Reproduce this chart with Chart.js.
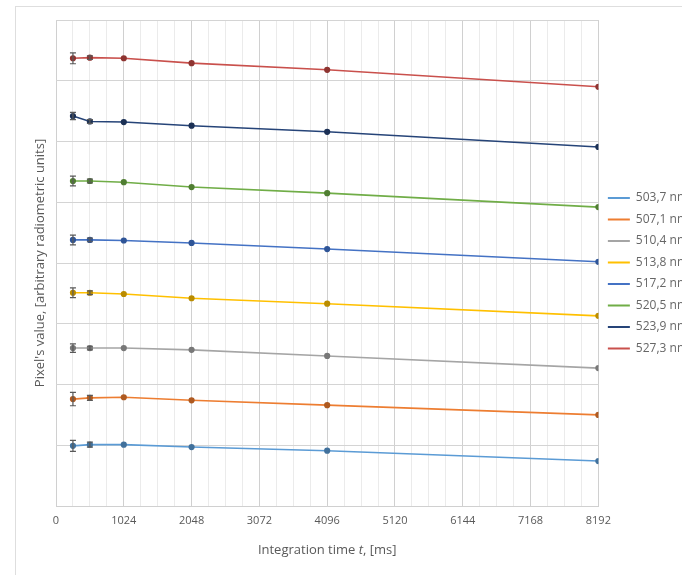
<!DOCTYPE html>
<html>
<head>
<meta charset="utf-8">
<script src="https://cdn.jsdelivr.net/npm/chart.js@4"></script>
<style>
  html, body { margin: 0; padding: 0; background: #fff; overflow: hidden; }
  #wrap { position: relative; width: 682px; height: 575px; overflow: hidden; }
  #frame { position: absolute; left: 15px; top: 6px; width: 700px; height: 600px; border: 1px solid #dedede; }
  #myChart { position: absolute; left: 0; top: 0; }
</style>
</head>
<body>
<div id="wrap">
  <div id="frame"></div>
  <canvas id="myChart" width="698" height="575"></canvas>
</div>
<script>
// data
const times = [256, 512, 1024, 2048, 4096, 8192];
const xTicks = [0, 1024, 2048, 3072, 4096, 5120, 6144, 7168, 8192];

const names = ["503,7 nm", "507,1 nm", "510,4 nm", "513,8 nm", "517,2 nm", "520,5 nm", "523,9 nm", "527,3 nm"];

const s503 = [0.99, 1.01, 1.01, 0.97, 0.91, 0.74];
const s507 = [1.76, 1.78, 1.79, 1.74, 1.66, 1.50];
const s510 = [2.60, 2.60, 2.60, 2.57, 2.47, 2.27];
const s513 = [3.51, 3.51, 3.49, 3.42, 3.33, 3.13];
const s517 = [4.38, 4.38, 4.37, 4.33, 4.23, 4.02];
const s520 = [5.35, 5.35, 5.33, 5.25, 5.15, 4.92];
const s523 = [6.42, 6.33, 6.32, 6.26, 6.16, 5.91];
const s527 = [7.37, 7.38, 7.37, 7.29, 7.18, 6.90];

// error bar half-widths (only the short times have visible ones)
const e503 = [0.09, 0.04, 0, 0, 0, 0];
const e507 = [0.11, 0.04, 0, 0, 0, 0];
const e510 = [0.07, 0.03, 0, 0, 0, 0];
const e513 = [0.08, 0.03, 0, 0, 0, 0];
const e517 = [0.08, 0.03, 0, 0, 0, 0];
const e520 = [0.08, 0.03, 0, 0, 0, 0];
const e523 = [0.06, 0.03, 0, 0, 0, 0];
const e527 = [0.09, 0.03, 0, 0, 0, 0];

const series = [s503, s507, s510, s513, s517, s520, s523, s527];
const errors = [e503, e507, e510, e513, e517, e520, e523, e527];

const lineColors = ["#5B9BD5", "#ED7D31", "#A5A5A5", "#FFC000", "#4472C4", "#70AD47", "#264478", "#C9504C"];
const dotColors = ["#41719C", "#AE5A21", "#787878", "#BA8C00", "#2F5597", "#507E32", "#1B3055", "#8E3431"];

const labelFont = "'Open Sans', 'Liberation Sans', sans-serif";

// error bars drawn through the scales
const errorBars = {
  id: "errorBars",
  afterDatasetsDraw(chart) {
    const ctx = chart.ctx;
    const x = chart.scales.x;
    const y = chart.scales.y;
    ctx.save();
    ctx.strokeStyle = "#595959";
    ctx.lineWidth = 1.2;
    series.forEach((s, i) => {
      errors[i].forEach((e, j) => {
        if (!e) return;
        const px = x.getPixelForValue(times[j]);
        const top = y.getPixelForValue(s[j] + e);
        const bot = y.getPixelForValue(s[j] - e);
        ctx.beginPath();
        ctx.moveTo(px, top);
        ctx.lineTo(px, bot);
        ctx.moveTo(px - 3, top);
        ctx.lineTo(px + 3, top);
        ctx.moveTo(px - 3, bot);
        ctx.lineTo(px + 3, bot);
        ctx.stroke();
      });
    });
    ctx.restore();
  },
};

// x axis title with italic t
const xTitle = {
  id: "xTitle",
  afterDraw(chart) {
    const ctx = chart.ctx;
    const a = chart.chartArea;
    const parts = [
      ["Integration time ", "normal"],
      ["t", "italic"],
      [", [ms]", "normal"],
    ];
    ctx.save();
    ctx.fillStyle = "#595959";
    ctx.textBaseline = "middle";
    let w = 0;
    parts.forEach((p) => {
      ctx.font = p[1] + " 13px " + labelFont;
      w += ctx.measureText(p[0]).width;
    });
    let cx = (a.left + a.right) / 2 - w / 2;
    parts.forEach((p) => {
      ctx.font = p[1] + " 13px " + labelFont;
      ctx.fillText(p[0], cx, 550);
      cx += ctx.measureText(p[0]).width;
    });
    ctx.restore();
  },
};

const datasets = series.map((s, i) => ({
  label: names[i],
  data: s.map((v, j) => ({ x: times[j], y: v })),
  borderColor: lineColors[i],
  backgroundColor: dotColors[i],
  pointBackgroundColor: dotColors[i],
  pointBorderColor: dotColors[i],
  pointRadius: 2.3,
  pointStyle: "circle",
  borderWidth: 1.6,
  tension: 0,
}));

const chart = new Chart("myChart", {
  type: "line",
  data: { datasets: datasets },
  options: {
    responsive: false,
    animation: false,
    layout: { padding: { left: 28, top: 20, bottom: 10, right: 0 } },
    plugins: {
      legend: {
        position: "right",
        align: "start",
        title: { display: true, text: "", padding: { top: 0, bottom: 148 } },
        labels: {
          boxWidth: 22,
          boxHeight: 2,
          padding: 9.5,
          color: "#404040",
          font: { family: labelFont, size: 12 },
          generateLabels: (c) =>
            c.data.datasets.map((d, i) => ({
              text: d.label,
              fillStyle: lineColors[i],
              strokeStyle: lineColors[i],
              lineWidth: 0,
              datasetIndex: i,
            })),
        },
      },
      tooltip: { enabled: false },
    },
    scales: {
      x: {
        type: "linear",
        min: 0,
        max: 8192,
        afterBuildTicks: (scale) => {
          const t = [];
          for (let v = 0; v <= 8192; v += 256) t.push({ value: v });
          scale.ticks = t;
        },
        afterFit: (scale) => {
          scale.height = 59;
        },
        ticks: {
          autoSkip: false,
          maxRotation: 0,
          padding: 8,
          color: "#595959",
          font: { family: labelFont, size: 11 },
          callback: (v) => (xTicks.includes(v) ? String(v) : ""),
        },
        grid: {
          drawTicks: false,
          color: (c) => (c.tick && c.tick.value % 1024 === 0 ? "#d0d0d0" : "#ebebeb"),
        },
        border: { color: "#d0d0d0" },
      },
      y: {
        min: 0,
        max: 8,
        afterFit: (scale) => {
          scale.width = 28;
        },
        ticks: { display: false, stepSize: 1 },
        grid: { drawTicks: false, color: "#d4d4d4" },
        border: { display: false },
        title: {
          display: true,
          text: "Pixel's value, [arbitrary radiometric units]",
          color: "#595959",
          padding: { top: 4, bottom: 0 },
          font: { family: labelFont, size: 13 },
        },
      },
    },
  },
  plugins: [errorBars, xTitle],
});
</script>
</body>
</html>
